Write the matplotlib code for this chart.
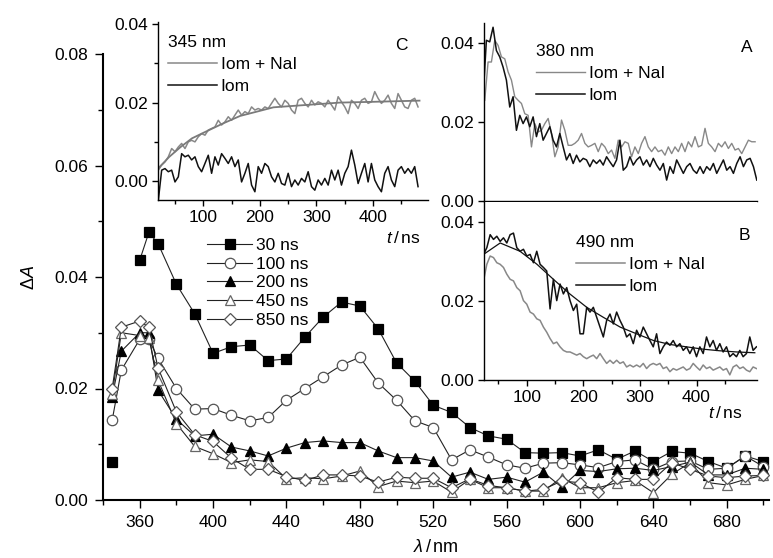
import numpy as np
import matplotlib
matplotlib.use('Agg')
import matplotlib.pyplot as plt
from matplotlib.ticker import MultipleLocator, FixedLocator, NullLocator, FormatStrFormatter

plt.rcParams['font.family'] = ['Liberation Sans', 'DejaVu Sans']
plt.rcParams['mathtext.fontset'] = 'custom'
plt.rcParams['mathtext.rm'] = 'Liberation Sans'
plt.rcParams['mathtext.it'] = 'Liberation Sans:italic'
plt.rcParams['font.size'] = 12.5
FS = 12.5

# ---- main panel: transient spectra ----
wl = [345, 350, 360, 365, 370, 380, 390, 400, 410, 420, 430, 440, 450, 460, 470,
      480, 490, 500, 510, 520, 530, 540, 550, 560, 570, 580, 590, 600, 610, 620,
      630, 640, 650, 660, 670, 680, 690, 700]
dA_30 = [0.0068, np.nan, 0.043, 0.048, 0.046, 0.0387, 0.0334, 0.0263, 0.0275, 0.0278,
         0.025, 0.0253, 0.0292, 0.0328, 0.0355, 0.0348, 0.0307, 0.0246, 0.0213, 0.017,
         0.0157, 0.013, 0.0115, 0.0109, 0.0085, 0.0084, 0.0085, 0.0079, 0.009, 0.0073,
         0.0088, 0.0069, 0.0087, 0.0084, 0.0069, 0.0057, 0.0079, 0.0069]
dA_100 = [0.0143, 0.0233, 0.0288, 0.0288, 0.0254, 0.020, 0.0163, 0.0164, 0.0152, 0.0142,
          0.0148, 0.0179, 0.020, 0.0221, 0.0242, 0.0256, 0.021, 0.0179, 0.0142, 0.013,
          0.0072, 0.009, 0.0077, 0.0063, 0.0057, 0.0066, 0.0067, 0.0063, 0.0058, 0.0069,
          0.0072, 0.0055, 0.0069, 0.007, 0.0055, 0.0057, 0.0079, 0.006]
dA_200 = [0.0185, 0.0267, 0.030, 0.030, 0.0197, 0.0145, 0.0115, 0.0118, 0.0095, 0.0088,
          0.0079, 0.0093, 0.0103, 0.0106, 0.0103, 0.0103, 0.0088, 0.0076, 0.0076, 0.007,
          0.0041, 0.005, 0.0037, 0.0041, 0.0032, 0.005, 0.0023, 0.0053, 0.0051, 0.0056,
          0.0057, 0.0053, 0.006, 0.0068, 0.0045, 0.0045, 0.0057, 0.0055]
dA_450 = [0.019, 0.030, 0.0295, 0.029, 0.0215, 0.0137, 0.0096, 0.0083, 0.0067, 0.0072,
          0.0069, 0.0038, 0.004, 0.0038, 0.0043, 0.0052, 0.0024, 0.0034, 0.0031, 0.0034,
          0.0014, 0.0037, 0.0022, 0.0022, 0.0016, 0.0016, 0.004, 0.0022, 0.0022, 0.0031,
          0.0035, 0.0013, 0.0046, 0.0067, 0.0031, 0.0027, 0.0037, 0.0044]
dA_850 = [0.020, 0.031, 0.0321, 0.031, 0.0237, 0.0158, 0.0117, 0.0105, 0.0075, 0.0055,
          0.0055, 0.0042, 0.0035, 0.0045, 0.0045, 0.0043, 0.0032, 0.0041, 0.0039, 0.0039,
          0.0022, 0.0038, 0.0026, 0.0022, 0.0016, 0.0019, 0.0034, 0.0031, 0.0014, 0.004,
          0.0037, 0.0037, 0.0067, 0.0055, 0.0043, 0.004, 0.0043, 0.0044]
delay_labels = ['30 ns', '100 ns', '200 ns', '450 ns', '850 ns']

# ---- inset C: 345 nm kinetics (values in 1e-3) ----
c_t = (20.6, 479.4)
c_nai = [2.8, 4.1, 4.9, 6.2, 8.3, 7.5, 8.7, 9.6, 8.3, 10.0, 10.4, 10.0, 11.3, 12.1, 11.7,
         13.0, 13.4, 13.8, 15.5, 14.3, 15.1, 16.4, 15.5, 16.8, 18.1, 16.8, 17.7, 17.2, 18.9,
         18.1, 18.5, 18.1, 18.9, 18.5, 19.8, 21.1, 19.8, 18.9, 20.6, 19.8, 18.1, 17.2, 20.6,
         21.1, 19.8, 18.9, 20.6, 19.4, 20.2, 19.8, 18.9, 20.6, 19.4, 18.1, 21.5, 20.2, 18.9,
         17.2, 20.6, 19.8, 18.5, 20.6, 21.1, 19.8, 20.2, 22.8, 21.1, 19.8, 20.6, 21.9, 19.8,
         18.5, 22.3, 20.6, 18.9, 18.5, 20.6, 21.1, 18.9]
c_iom = [-4.8, 2.8, 3.2, 2.4, 2.8, -0.2, 1.1, 7.0, 6.2, 6.6, 5.4, 6.2, 3.7, 2.4, 4.5, 6.6,
         2.0, 6.2, 4.1, 7.0, 5.8, 4.5, 6.2, 3.7, 5.4, -0.2, 2.0, 4.5, -1.0, -2.7, 3.7, 2.0,
         4.5, 3.7, 1.1, -0.2, 2.0, -0.6, -1.0, 2.0, -1.4, 0.3, -1.0, 0.7, -0.2, 2.4, -1.4,
         -2.3, 0.3, -1.0, 0.7, -1.0, 2.8, 0.3, 2.8, -1.0, 2.0, 3.7, 7.9, 4.1, -0.6, 2.0, 4.5,
         -0.2, 4.5, 0.3, -1.4, -2.7, 2.0, 3.7, 0.3, -1.4, 2.8, 3.7, 2.0, 3.2, 2.0, 3.7, -1.4]
c_fit_t = [20, 40, 60, 80, 100, 135, 165, 200, 224, 282, 341, 400, 482]
c_fit = [3.2, 6.2, 8.7, 10.9, 12.3, 14.7, 16.6, 17.9, 18.8, 19.4, 20.0, 20.2, 20.5]

# ---- inset A: 380 nm kinetics ----
a_t_nai = (25.7, 503.5)
a_nai = [25.5, 35.2, 35.2, 40.7, 39.4, 36.5, 36.0, 32.7, 30.6, 26.4, 25.5, 24.7, 22.1, 21.7,
         13.7, 19.6, 17.5, 17.9, 19.6, 20.9, 17.1, 11.2, 13.7, 20.5, 17.9, 14.1, 14.1, 14.6,
         15.4, 17.1, 14.6, 13.7, 14.1, 14.6, 12.5, 14.6, 13.7, 12.0, 12.9, 10.8, 15.4, 13.7,
         15.0, 14.6, 11.2, 13.7, 12.0, 14.6, 16.3, 13.7, 12.5, 13.7, 12.5, 12.9, 11.6, 13.7,
         12.0, 13.7, 12.5, 14.6, 12.5, 15.0, 13.7, 16.3, 13.7, 14.1, 18.4, 14.6, 13.7, 12.5,
         14.6, 13.7, 15.0, 13.3, 14.6, 12.9, 13.3, 12.0, 13.7, 15.4, 15.0, 15.0]
a_t_iom = (22.7, 506.5)
a_iom = [26.0, 40.7, 40.3, 44.0, 38.1, 36.5, 33.9, 30.6, 23.8, 26.4, 17.9, 21.7, 19.6, 21.3,
         18.8, 21.3, 16.3, 19.6, 15.4, 17.1, 18.8, 15.4, 13.7, 17.1, 13.7, 10.4, 12.0, 9.5,
         11.6, 9.9, 10.8, 10.4, 8.7, 10.4, 9.5, 10.4, 9.1, 11.2, 9.9, 8.7, 10.4, 15.4, 7.8,
         8.7, 11.2, 9.1, 10.4, 11.2, 9.1, 10.4, 8.7, 10.8, 9.1, 7.8, 9.5, 5.3, 8.7, 7.0, 10.4,
         8.7, 7.0, 8.7, 9.5, 7.8, 7.0, 8.7, 7.0, 8.7, 7.8, 9.5, 7.0, 8.7, 10.4, 7.8, 8.7, 7.0,
         9.5, 11.2, 8.7, 10.4, 10.8, 8.7, 5.3]

# ---- inset B: 490 nm kinetics ----
b_t = (23.5, 505.9)
b_iom = [31.8, 33.5, 36.8, 35.6, 36.4, 35.1, 36.0, 34.7, 36.8, 37.2, 33.5, 32.6, 33.1, 31.4,
         31.8, 29.7, 32.6, 29.3, 28.5, 27.6, 18.0, 25.5, 20.1, 24.3, 21.8, 23.4, 20.1, 17.6,
         19.2, 11.7, 11.7, 18.4, 17.2, 18.4, 15.9, 13.4, 10.9, 15.1, 16.7, 14.2, 17.2, 15.1,
         13.4, 10.9, 11.7, 9.2, 12.6, 10.9, 13.4, 11.7, 10.0, 8.4, 11.7, 6.7, 8.4, 9.6, 8.8,
         10.0, 8.4, 9.2, 7.5, 8.4, 6.7, 8.4, 5.9, 8.4, 6.7, 10.9, 8.4, 10.0, 7.5, 9.2, 7.1,
         8.4, 5.9, 6.7, 5.9, 7.5, 5.9, 6.7, 10.9, 7.5, 8.4]
b_nai = [25.1, 29.3, 31.4, 31.0, 29.7, 29.3, 28.5, 26.8, 25.5, 25.1, 23.4, 22.6, 20.1, 19.2,
         17.2, 16.7, 15.5, 15.1, 13.4, 12.1, 10.5, 9.2, 9.6, 8.4, 7.5, 7.1, 7.1, 6.7, 6.3,
         6.7, 5.9, 5.4, 5.9, 6.3, 5.4, 6.7, 5.4, 4.2, 5.0, 4.2, 5.0, 4.2, 4.6, 3.3, 3.8, 3.3,
         3.8, 3.3, 4.2, 2.9, 3.8, 4.2, 3.8, 4.2, 2.9, 3.3, 2.1, 2.9, 2.5, 2.9, 3.3, 2.5, 2.9,
         4.2, 3.3, 2.5, 3.8, 2.9, 3.3, 2.5, 2.9, 3.3, 2.5, 2.9, 1.3, 3.3, 3.8, 2.9, 3.3, 2.5,
         2.1, 3.3, 2.9]
b_fit_t = [23.5, 53, 88, 118, 147, 176, 206, 235, 265, 294, 324, 353, 382, 412, 441, 471, 503]
b_fit = [31.8, 34.7, 32.6, 29.3, 25.5, 21.8, 18.4, 15.9, 13.4, 11.7, 10.0, 9.0, 8.4, 7.8,
         7.4, 7.1, 6.9]

W, H = 773, 558


def box(l, t, r, b):
    return [l / W, 1 - b / H, (r - l) / W, (b - t) / H]


def fpos(x, y):
    return (x / W, 1 - y / H)


def trace(span, vals):
    return np.linspace(span[0], span[1], len(vals)), np.array(vals) * 1e-3


def style(ax, lw, major, minor, pad):
    for s in ['top', 'right']:
        ax.spines[s].set_visible(False)
    for s in ['left', 'bottom']:
        ax.spines[s].set_linewidth(lw)
    ax.tick_params(which='both', direction='out', width=1.0, labelsize=FS, pad=pad)
    ax.tick_params(which='major', length=major)
    ax.tick_params(which='minor', length=minor)


fig = plt.figure(figsize=(W / 100, H / 100), dpi=100)

ax = fig.add_axes(box(103, 54, 769, 500))
series = [
    (dA_30, dict(marker='s', mfc='black', mec='black', ms=6.5)),
    (dA_100, dict(marker='o', mfc='white', mec='#555555', ms=7.5)),
    (dA_200, dict(marker='^', mfc='black', mec='black', ms=7.5)),
    (dA_450, dict(marker='^', mfc='white', mec='#666666', ms=7.5)),
    (dA_850, dict(marker='D', mfc='white', mec='#555555', ms=6.5)),
]
for (vals, kw), lab in zip(series, delay_labels):
    ax.plot(wl, vals, color='#222222', lw=0.8, mew=0.9, label=lab, **kw)
ax.set_xlim(340, 703)
ax.set_ylim(0, 0.08)
ax.xaxis.set_major_locator(MultipleLocator(40))
ax.xaxis.set_minor_locator(MultipleLocator(20))
ax.yaxis.set_major_locator(MultipleLocator(0.02))
ax.yaxis.set_minor_locator(MultipleLocator(0.01))
ax.yaxis.set_major_formatter(FormatStrFormatter('%.2f'))
style(ax, 1.5, 6, 3.5, 4.5)
ax.set_xlabel(r'$\lambda\,/\,$nm', fontsize=13, labelpad=7)
ax.set_ylabel(r'$\Delta A$', fontsize=13, labelpad=12)
ax.legend(loc='upper left', bbox_to_anchor=fpos(207, 238),
          bbox_transform=fig.transFigure, frameon=False, numpoints=1,
          handlelength=2.6, handletextpad=0.23, labelspacing=0.2,
          borderpad=0, borderaxespad=0, fontsize=FS)

# inset C
axc = fig.add_axes(box(158, 21.7, 428, 200))
t, v = trace(c_t, c_nai)
axc.plot(t, v, color='#888888', lw=1.1, label='Iom + NaI')
t, v = trace(c_t, c_iom)
axc.plot(t, v, color='#111111', lw=1.1, label='Iom')
axc.plot(c_fit_t, np.array(c_fit) * 1e-3, color='#7a7a7a', lw=1.3)
axc.set_xlim(20, 497)
axc.set_ylim(-0.0048, 0.0406)

# inset A
axa = fig.add_axes(box(483.5, 23.3, 756.5, 201))
t, v = trace(a_t_nai, a_nai)
axa.plot(t, v, color='#888888', lw=1.0, label='Iom + NaI')
t, v = trace(a_t_iom, a_iom)
axa.plot(t, v, color='#111111', lw=1.1, label='Iom')
axa.set_xlim(23.5, 506)
axa.set_ylim(0, 0.045)

# inset B
axb = fig.add_axes(box(483.5, 202.3, 756.5, 380))
t, v = trace(b_t, b_nai)
axb.plot(t, v, color='#888888', lw=1.1, label='Iom + NaI')
t, v = trace(b_t, b_iom)
axb.plot(t, v, color='#111111', lw=1.1, label='Iom')
axb.plot(b_fit_t, np.array(b_fit) * 1e-3, color='#111111', lw=0.9)
axb.set_xlim(23.5, 506)
axb.set_ylim(0, 0.045)

for a in (axc, axa, axb):
    a.set_facecolor('white')
    a.xaxis.set_major_locator(FixedLocator([100, 200, 300, 400]))
    a.xaxis.set_minor_locator(FixedLocator([50, 150, 250, 350, 450]))
    a.yaxis.set_major_locator(MultipleLocator(0.02))
    a.yaxis.set_major_formatter(FormatStrFormatter('%.2f'))
    style(a, 1.0, 4.5, 3, 2.5)
axc.yaxis.set_minor_locator(MultipleLocator(0.01))
axa.yaxis.set_minor_locator(NullLocator())
axb.yaxis.set_minor_locator(NullLocator())
axa.tick_params(axis='x', which='both', labelbottom=False)

for a, wl_txt, leg_xy, tag, tag_xy in [(axc, '345 nm', (168, 35), 'C', (401, 45)),
                                       (axa, '380 nm', (536, 44), 'A', (747, 47)),
                                       (axb, '490 nm', (576, 235), 'B', (744, 236))]:
    leg = a.legend(title=wl_txt, alignment='left', loc='upper left',
                   bbox_to_anchor=fpos(*leg_xy), bbox_transform=fig.transFigure,
                   frameon=False, handlelength=2.8, handletextpad=0.23,
                   labelspacing=0.4, borderpad=0, borderaxespad=0,
                   fontsize=FS, title_fontsize=FS)
    leg._legend_box.sep = 5
    fig.text(*fpos(*tag_xy), tag, ha='center', va='center', fontsize=FS)

fig.text(*fpos(420, 238), r'$t\,/\,$ns', ha='right', va='center', fontsize=FS)
fig.text(*fpos(742, 413), r'$t\,/\,$ns', ha='right', va='center', fontsize=FS)

fig.savefig('out.png', dpi=100)
